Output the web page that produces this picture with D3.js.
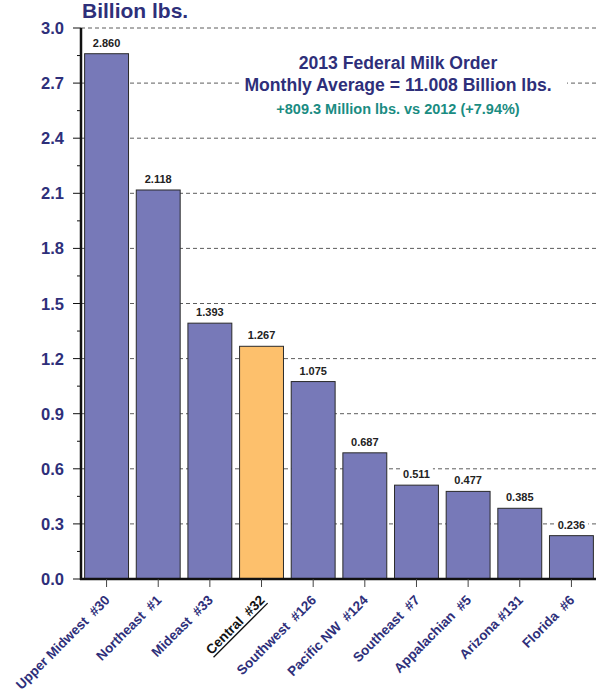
<!DOCTYPE html>
<html><head><meta charset="utf-8">
<script src="https://cdn.jsdelivr.net/npm/d3@7"></script>
<style>body{margin:0;background:#fff}svg{display:block;font-family:"Liberation Sans",Arial,sans-serif}</style>
</head><body><svg id="c" width="596" height="695"></svg>
<script>
const categories = ["Upper Midwest  #30","Northeast  #1","Mideast  #33","Central  #32","Southwest  #126","Pacific NW  #124","Southeast  #7","Appalachian  #5","Arizona #131","Florida  #6"];
const values = [2.860,2.118,1.393,1.267,1.075,0.687,0.511,0.477,0.385,0.236];
const valueLabels = ["2.860","2.118","1.393","1.267","1.075","0.687","0.511","0.477","0.385","0.236"];
const highlight = "Central  #32";
const yTicks = [0,0.3,0.6,0.9,1.2,1.5,1.8,2.1,2.4,2.7,3.0];
const yMinor = [0.15,0.45,0.75,1.05,1.35,1.65,1.95,2.25,2.55,2.85];
const titleLines = ["2013 Federal Milk Order","Monthly Average = 11.008 Billion lbs."];
const subLine = "+809.3 Million lbs. vs 2012 (+7.94%)";
const yTitle = "Billion lbs.";

const navy = "#2e2f7a", bar = "#7779b8", orange = "#fdc06c";
const svg = d3.select("#c");
const x0 = 81, x1 = 597, yTop = 28, yBot = 579;
const x = d3.scaleBand().domain(categories).range([x0, x1]).paddingInner(0.15).paddingOuter(0.07);
const y = d3.scaleLinear().domain([0,3]).range([yBot, yTop]);

// gridlines
svg.append("g").selectAll("line").data(yTicks.filter(d=>d>0)).join("line")
  .attr("x1", x0).attr("x2", 596).attr("y1", d=>y(d)).attr("y2", d=>y(d))
  .attr("stroke", "#333").attr("stroke-width", 0.8).attr("stroke-dasharray", "4,3");

// annotation background
svg.append("rect").attr("x", 239).attr("y", 46).attr("width", 328).attr("height", 74).attr("fill", "#fff");

// bars
svg.append("g").selectAll("rect").data(categories).join("rect")
  .attr("x", d=>x(d)).attr("width", x.bandwidth())
  .attr("y", (d,i)=>y(values[i])).attr("height", (d,i)=>yBot - y(values[i]))
  .attr("fill", d=> d===highlight ? orange : bar).attr("stroke", "#2a2a2a").attr("stroke-width", 1);

// value labels with white backing
const vl = svg.append("g").selectAll("g").data(categories).join("g");
vl.append("text")
  .attr("x", d=>x(d)+x.bandwidth()/2).attr("y", (d,i)=>y(values[i])-7)
  .attr("text-anchor","middle").attr("font-size", 11).attr("font-weight","bold").attr("fill","#222")
  .text((d,i)=>valueLabels[i]);
vl.each(function(){
  const g = d3.select(this), b = g.select("text").node().getBBox();
  g.insert("rect","text").attr("x", b.x-3).attr("y", b.y-1).attr("width", b.width+6).attr("height", b.height+2).attr("fill","#fff");
});

// y axis
const ya = svg.append("g");
ya.append("line").attr("x1", x0).attr("x2", x0).attr("y1", yTop).attr("y2", yBot+1).attr("stroke","#111").attr("stroke-width",2.5);
ya.selectAll(".mj").data(yTicks).join("line").attr("class","mj")
  .attr("x1", 73).attr("x2", x0).attr("y1", d=>y(d)).attr("y2", d=>y(d)).attr("stroke","#111").attr("stroke-width",1);
ya.selectAll(".mn").data(yMinor).join("line").attr("class","mn")
  .attr("x1", 77).attr("x2", x0).attr("y1", d=>y(d)).attr("y2", d=>y(d)).attr("stroke","#111").attr("stroke-width",1);
ya.selectAll("text").data(yTicks).join("text")
  .attr("x", 64).attr("y", d=>y(d)+6).attr("text-anchor","end")
  .attr("font-size", 16.5).attr("font-weight","bold").attr("fill", navy).text(d=>d.toFixed(1));

// x axis
svg.append("line").attr("x1", x0-1).attr("x2", 596).attr("y1", yBot).attr("y2", yBot).attr("stroke","#111").attr("stroke-width",2.5);
svg.append("g").selectAll("line").data(categories).join("line")
  .attr("x1", d=>x(d)+x.bandwidth()/2).attr("x2", d=>x(d)+x.bandwidth()/2)
  .attr("y1", yBot).attr("y2", yBot+8).attr("stroke","#444").attr("stroke-width",1);
const xl = svg.append("g").selectAll("g").data(categories).join("g")
  .attr("transform", d=>`translate(${x(d)+x.bandwidth()/2+4},${yBot+22}) rotate(-45)`);
xl.append("text").attr("text-anchor","end").attr("font-size", 13.5).attr("font-weight","bold")
  .attr("xml:space","preserve").style("white-space","pre")
  .attr("fill", d=> d===highlight ? "#111" : navy).text(d=>d);
xl.filter(d=>d===highlight).each(function(){
  const t = d3.select(this).select("text").node().getBBox();
  d3.select(this).append("line").attr("x1", t.x).attr("x2", t.x+t.width).attr("y1", 3).attr("y2", 3)
    .attr("stroke","#111").attr("stroke-width",1.3);
});

// title
svg.append("text").attr("x", 82).attr("y", 18).attr("font-size", 21).attr("font-weight","bold").attr("fill", navy).text(yTitle);
svg.append("g").selectAll("text").data(titleLines).join("text")
  .attr("x", 398).attr("y", (d,i)=>69+i*22).attr("text-anchor","middle")
  .attr("font-size", 17.6).attr("font-weight","bold").attr("fill", navy).text(d=>d);
svg.append("text").attr("x", 398).attr("y", 114).attr("text-anchor","middle")
  .attr("font-size", 14.5).attr("font-weight","bold").attr("fill", "#1a8c82").text(subLine);
</script></body></html>
